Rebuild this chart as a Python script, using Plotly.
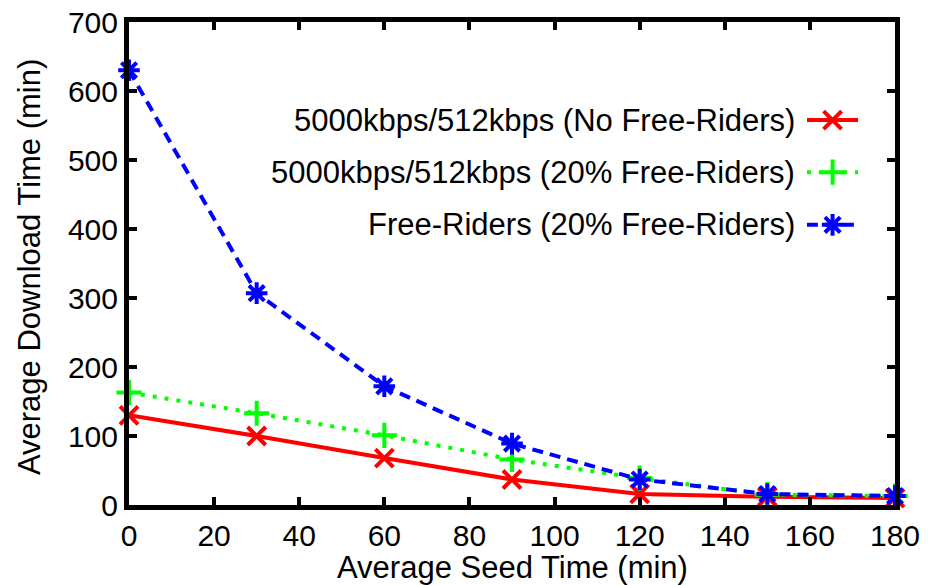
import plotly.graph_objects as go

seed_time = [0, 30, 60, 90, 120, 150, 180]
no_free = [130, 100, 68, 37, 16, 12, 10]
free20 = [163, 133, 101, 66, 39, 15, 13]
riders = [630, 307, 172, 89, 37, 16, 13]

names = ["5000kbps/512kbps (No Free-Riders)",
         "5000kbps/512kbps (20% Free-Riders)",
         "Free-Riders (20% Free-Riders)"]
colors = ["#ff0000", "#00ff00", "#0000ff"]
dashes = ["solid", "4px,8px", "11px,7px"]
symbols = ["x-thin-open", "cross-thin-open", "asterisk-open"]
series = [no_free, free20, riders]

FONT = "Liberation Sans, Arial"
fig = go.Figure()
for s, n, c, d, sym in zip(series, names, colors, dashes, symbols):
    fig.add_trace(go.Scatter(
        x=seed_time, y=s, mode="lines+markers", name=n,
        line=dict(color=c, width=4, dash=d),
        marker=dict(symbol=sym, size=18, line=dict(color=c, width=4), color=c),
        cliponaxis=False, showlegend=False))

# manual legend (text left of sample, as in reference)
leg_y = [0.797, 0.689, 0.580]
for n, c, d, sym, ly in zip(names, colors, dashes, symbols, leg_y):
    fig.add_annotation(xref="paper", yref="paper", x=0.872, y=ly, text=n,
                       showarrow=False, xanchor="right", yanchor="middle",
                       font=dict(size=31, color="black", family=FONT))
    fig.add_trace(go.Scatter(
        x=[0, 0.5, 1], y=[ly, ly, ly], xaxis="x2", yaxis="y2",
        mode="lines", line=dict(color=c, width=4, dash=d),
        showlegend=False, hoverinfo="skip"))
    fig.add_trace(go.Scatter(
        x=[0.5], y=[ly], xaxis="x2", yaxis="y2", mode="markers",
        marker=dict(symbol=sym, size=18, line=dict(color=c, width=4), color=c),
        showlegend=False, hoverinfo="skip"))

tick_font = dict(size=30, color="black", family=FONT)
title_font = dict(size=31, color="black", family=FONT)

fig.add_annotation(xref="paper", yref="paper", x=0.5, y=-0.13,
                   text="Average Seed Time (min)", showarrow=False,
                   xanchor="center", yanchor="middle", font=title_font)
fig.add_annotation(xref="paper", yref="paper", x=-0.129, y=0.493,
                   text="Average Download Time (min)", showarrow=False, textangle=-90,
                   xanchor="center", yanchor="middle", font=title_font)

fig.update_layout(
    width=928, height=585,
    margin=dict(l=129, r=33, t=22, b=80, autoexpand=False),
    paper_bgcolor="white", plot_bgcolor="rgba(0,0,0,0)",
    font=dict(family=FONT, color="black"),
    xaxis=dict(range=[0, 180], tickvals=list(range(0, 181, 20)),
               showline=True, linecolor="black", linewidth=5, mirror="ticks",
               ticks="inside", ticklen=8, tickwidth=4, tickcolor="black",
               showgrid=False, zeroline=False, tickfont=tick_font, automargin=False),
    yaxis=dict(range=[0, 700], tickvals=list(range(0, 701, 100)),
               showline=True, linecolor="black", linewidth=5, mirror="ticks",
               ticks="inside", ticklen=8, tickwidth=4, tickcolor="black",
               showgrid=False, zeroline=False, tickfont=tick_font, automargin=False),
    xaxis2=dict(domain=[0.885, 0.952], range=[0, 1], visible=False, anchor="y2"),
    yaxis2=dict(domain=[0, 1], range=[0, 1], visible=False, anchor="x2"),
)

fig.write_html("out.html", config={"displayModeBar": False},
               post_script="document.body.style.margin='0';document.body.style.padding='0';")
